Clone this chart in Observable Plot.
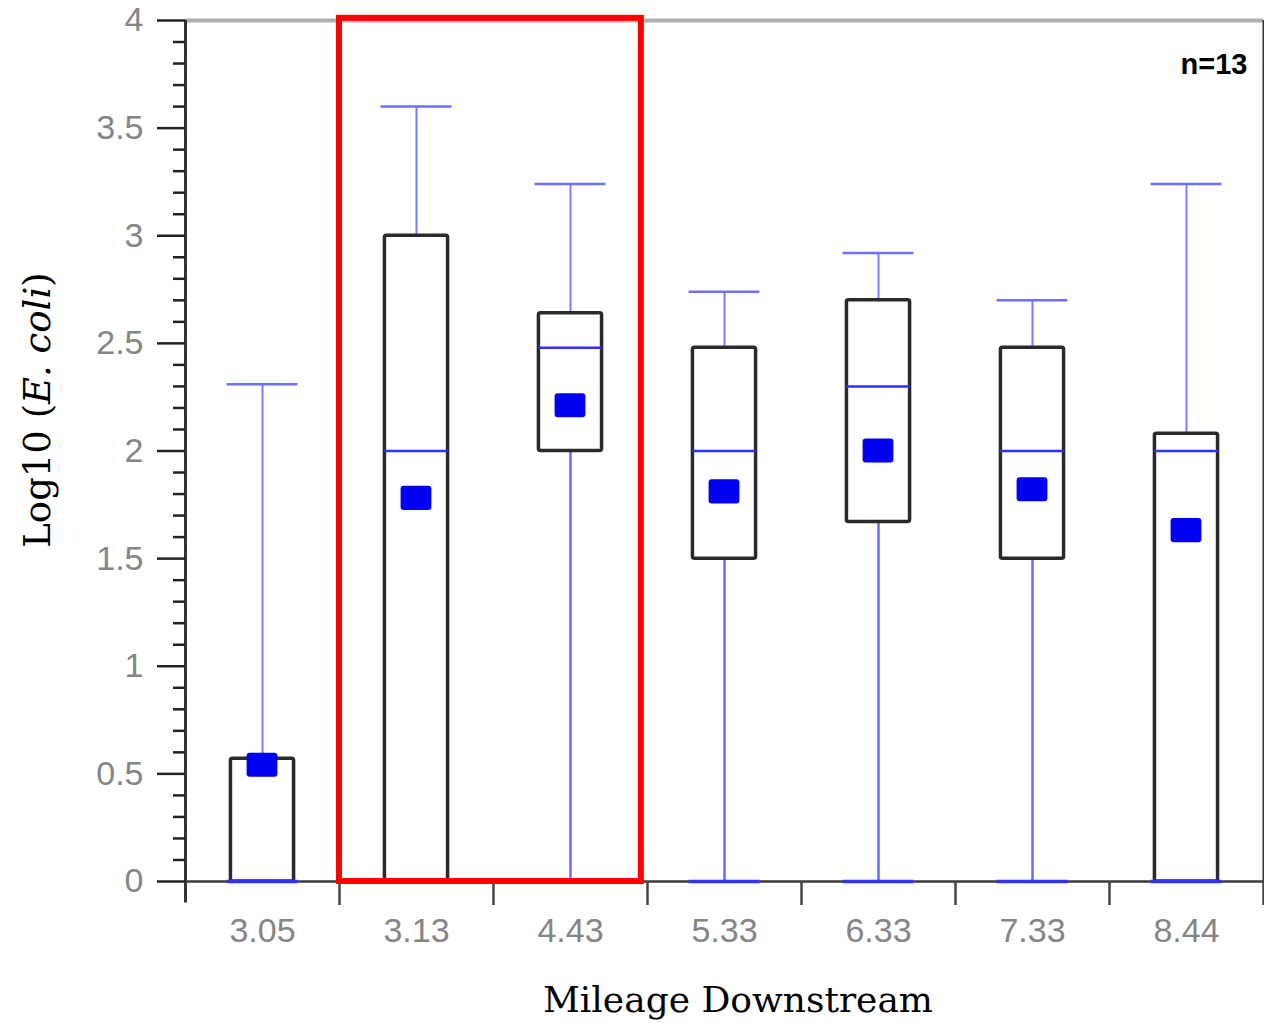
<!DOCTYPE html>
<html><head><meta charset="utf-8">
<script src="https://cdn.jsdelivr.net/npm/d3@7"></script>
<script src="https://cdn.jsdelivr.net/npm/@observablehq/plot@0.6"></script>
<style>body{margin:0;background:#fff;} #chart svg{display:block;}</style>
</head><body><div id="chart"></div>
<script>
// ---- data ----
const sites       = ["3.05","3.13","4.43","5.33","6.33","7.33","8.44"];
const whiskerLow  = [0, 0, 0, 0, 0, 0, 0];
const q1          = [0, 0, 2.00, 1.50, 1.67, 1.50, 0];
const medians     = [0, 2.00, 2.48, 2.00, 2.30, 2.00, 2.00];
const q3          = [0.57, 3.00, 2.64, 2.48, 2.70, 2.48, 2.08];
const whiskerHigh = [2.31, 3.60, 3.24, 2.74, 2.92, 2.70, 3.24];
const means       = [0.54, 1.78, 2.21, 1.81, 2.00, 1.82, 1.63];
const highlighted = ["3.13", "4.43"];
const yTicks      = [0, 0.5, 1, 1.5, 2, 2.5, 3, 3.5, 4];
const yTickLabels = ["0", "0.5", "1", "1.5", "2", "2.5", "3", "3.5", "4"];
const sampleNote  = "n=13";
const xTitle      = "Mileage Downstream";

// ---- derived table ----
const rows = sites.map((site, i) => ({
  site, i, lo: whiskerLow[i], q1: q1[i], med: medians[i], q3: q3[i], hi: whiskerHigh[i], mean: means[i]
}));
const boundaries = sites.map((s, i) => i + 0.5);
const minorTicks = d3.ticks(0, 4, 40).filter(t => Math.abs(t * 2 - Math.round(t * 2)) > 1e-6);
const hiIdx = highlighted.map(s => sites.indexOf(s));
const boxHalf = 0.205, capHalf = 0.23, meanHalfX = 0.1, meanHalfY = 0.056;

const plot = Plot.plot({
  width: 1264, height: 1023,
  marginTop: 20, marginBottom: 142, marginLeft: 185, marginRight: 1,
  x: {domain: [-0.5, 6.5], range: [185, 1263], axis: null},
  y: {domain: [0, 4], axis: null},
  style: {background: "#fff", fontFamily: "'Liberation Sans', Arial, sans-serif"},
  marks: [
    // frame lines
    Plot.ruleY([4], {stroke: "#b0b0b0", strokeWidth: 4}),
    Plot.ruleX([6.5], {stroke: "#333", strokeWidth: 2}),
    Plot.ruleY([0], {stroke: "#3a3a3a", strokeWidth: 2.5}),
    // whiskers
    Plot.ruleX(rows, {x: "i", y1: "q3", y2: "hi", stroke: "#7c7cff", strokeWidth: 2}),
    Plot.ruleX(rows, {x: "i", y1: "lo", y2: "q1", stroke: "#6a6aff", strokeWidth: 2.5}),
    Plot.ruleY(rows, {y: "hi", x1: d => d.i - capHalf, x2: d => d.i + capHalf, stroke: "#6e6eff", strokeWidth: 2.5}),
    // boxes
    Plot.rect(rows, {x1: d => d.i - boxHalf, x2: d => d.i + boxHalf, y1: "q1", y2: "q3",
      fill: "none", stroke: "#2a2a2a", strokeWidth: 3.5, rx: 2}),
    Plot.ruleY(rows, {y: "lo", x1: d => d.i - capHalf, x2: d => d.i + capHalf, stroke: "#3232ff", strokeWidth: 3.5}),
    Plot.ruleY(rows, {y: "med", x1: d => d.i - boxHalf, x2: d => d.i + boxHalf, stroke: "#2f2fff", strokeWidth: 2.5}),
    // means
    Plot.rect(rows, {x1: d => d.i - meanHalfX, x2: d => d.i + meanHalfX,
      y1: d => d.mean - meanHalfY, y2: d => d.mean + meanHalfY, fill: "#0000f5", rx: 3}),
    // axes
    Plot.ruleX([-0.5], {y1: -0.1, y2: 4, stroke: "#333", strokeWidth: 3}),
    Plot.axisY({ticks: yTicks, tickSize: 28, tickPadding: 14, tickFormat: d => yTickLabels[yTicks.indexOf(d)],
      fontSize: 34, fill: "#858585", stroke: "#222", strokeWidth: 2.5, label: null}),
    Plot.axisY({ticks: minorTicks, tickSize: 12, tickFormat: () => "", stroke: "#222", strokeWidth: 2.5, label: null}),
    Plot.axisX({ticks: boundaries, tickSize: 24, tickFormat: () => "", stroke: "#444", strokeWidth: 2.5, label: null}),
    Plot.text(rows, {x: "i", frameAnchor: "bottom", dy: 60, text: "site", fontSize: 34, fill: "#858585"}),
    // highlight box
    Plot.rect([hiIdx], {x1: d => d[0] - 0.5, x2: d => d[d.length - 1] + 0.46, y1: 0, y2: 4.01,
      fill: "none", stroke: "#ff0000", strokeWidth: 6}),
    // n label
    Plot.text([sampleNote], {frameAnchor: "top-right", dx: -16, dy: 33, text: d => d,
      fontSize: 29, fontWeight: "bold", fill: "#000"})
  ]
});
document.getElementById("chart").appendChild(plot);

const svg = d3.select(plot);
const yl = svg.append("text")
  .attr("transform", "translate(50,410) rotate(-90)")
  .attr("text-anchor", "middle")
  .attr("font-family", "'DejaVu Serif', Georgia, serif")
  .attr("font-size", 37).attr("fill", "#000");
yl.append("tspan").text("Log10 (");
yl.append("tspan").attr("font-style", "italic").text("E. coli");
yl.append("tspan").text(")");
svg.append("text")
  .attr("x", 738).attr("y", 1012)
  .attr("text-anchor", "middle")
  .attr("font-family", "'DejaVu Serif', Georgia, serif")
  .attr("font-size", 36).attr("fill", "#000")
  .text(xTitle);
</script>
</body></html>
